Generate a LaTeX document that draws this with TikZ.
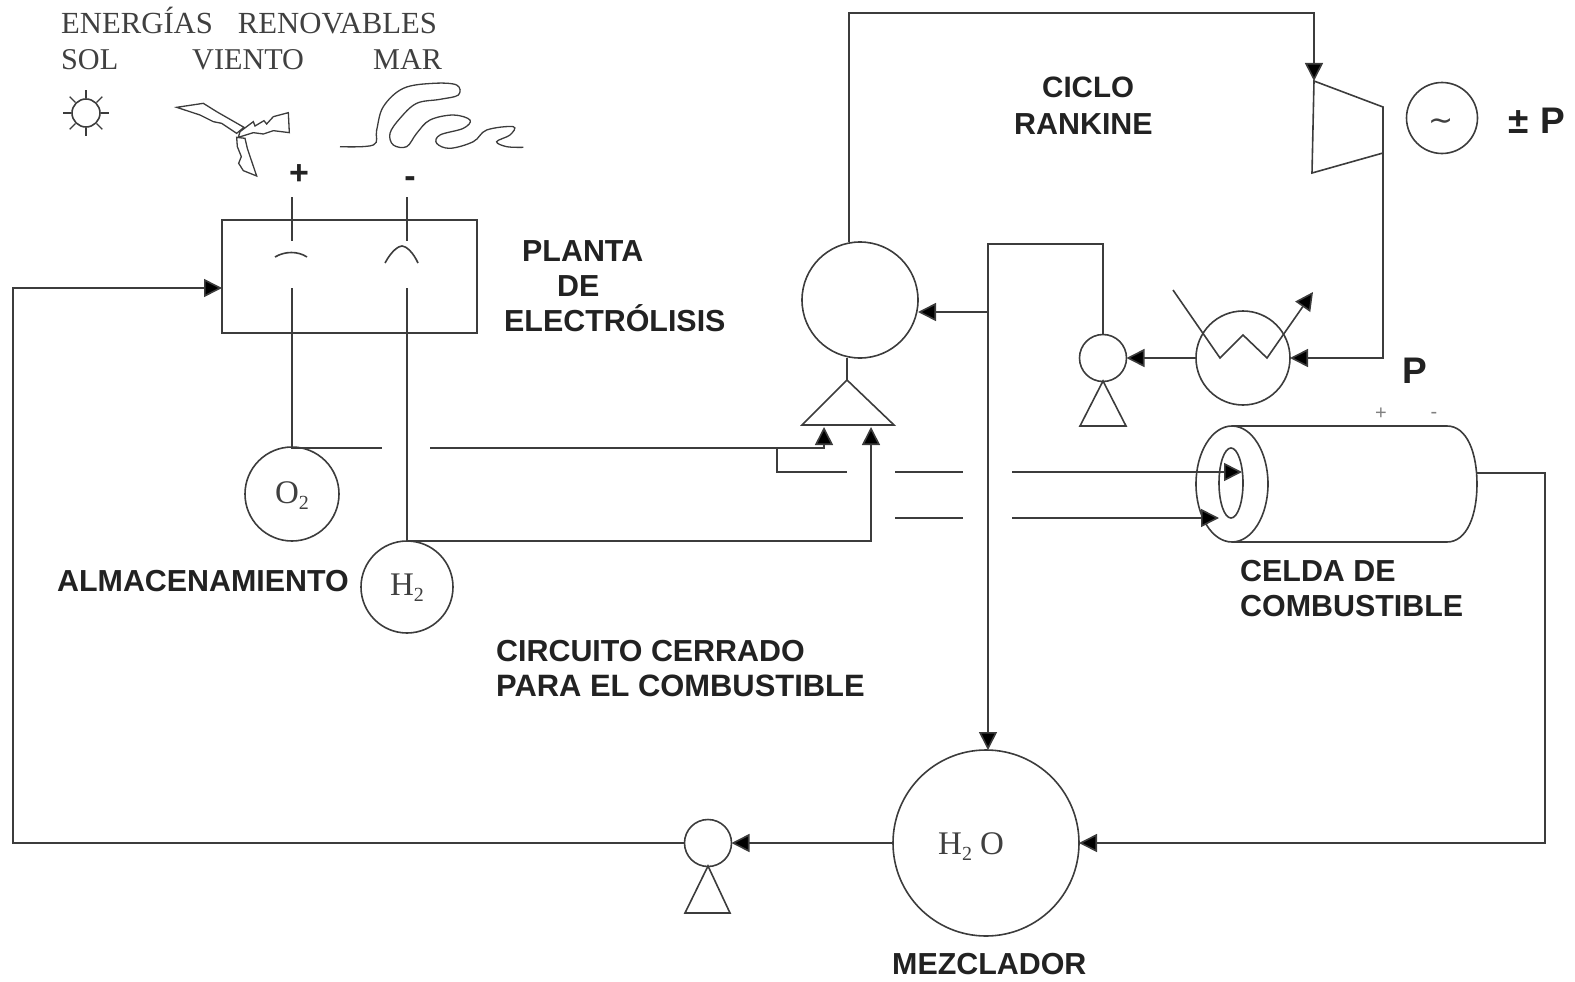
\documentclass[tikz,border=0pt]{standalone}
\usepackage{fontspec}
\setmainfont{Liberation Serif}
\setsansfont{Liberation Sans}
\newfontfamily\symbfont{DejaVu Sans}
\usetikzlibrary{arrows.meta}
\definecolor{ink}{HTML}{3C3C3C}
\definecolor{txt}{HTML}{222222}
\definecolor{stxt}{HTML}{404040}
\tikzset{
  ln/.style={draw=ink,line width=1.6pt,line join=miter},
  flow/.style={ln,-{Triangle[length=18pt,width=18pt,fill=black]}},
  ringnode/.style={circle,draw=ink,line width=1.6pt,inner sep=0pt,outer sep=0pt,fill=none},
  sanstxt/.style={anchor=base west,inner sep=0pt,text=txt,font=\sffamily\bfseries\fontsize{30.4}{36}\selectfont},
  bigtxt/.style={anchor=base west,inner sep=0pt,text=txt,font=\sffamily\bfseries\fontsize{37}{40}\selectfont},
  seriftxt/.style={anchor=base west,inner sep=0pt,text=stxt,font=\rmfamily\fontsize{30.2}{36}\selectfont},
  chem/.style={inner sep=0pt,text=stxt,font=\rmfamily\fontsize{33}{36}\selectfont},
  smalltxt/.style={inner sep=0pt,text=gray,font=\sffamily\fontsize{20}{22}\selectfont},
}
\newcommand{\lowsub}[1]{\raisebox{-6pt}{\fontsize{20}{20}\selectfont #1}}
\begin{document}
\begin{tikzpicture}[x=1pt,y=-1pt]
\useasboundingbox (0,0) rectangle (1575,982);
% --- labels
\node[seriftxt,font=\rmfamily\fontsize{30.7}{36}\selectfont] (t1) at (61,34) {ENERGÍAS\hspace{25pt}RENOVABLES};
\node[seriftxt] (t2) at (61,70) {SOL};
\node[seriftxt] (t3) at (192,70) {VIENTO};
\node[seriftxt] (t4) at (373,70) {MAR};
\node[sanstxt] (l1) at (522,261) {PLANTA};
\node[sanstxt] (l2) at (557,296) {DE};
\node[sanstxt] (l3) at (504,331) {ELECTRÓLISIS};
\node[sanstxt,font=\sffamily\bfseries\fontsize{29.5}{36}\selectfont] (l4) at (1042,98) {CICLO};
\node[sanstxt] (l5) at (1014,134) {RANKINE};
\node[sanstxt] (l6) at (57,591) {ALMACENAMIENTO};
\node[sanstxt] (l7) at (1240,581) {CELDA DE};
\node[sanstxt] (l8) at (1240,616) {COMBUSTIBLE};
\node[sanstxt] (l9) at (496,661) {CIRCUITO CERRADO};
\node[sanstxt,font=\sffamily\bfseries\fontsize{30.9}{36}\selectfont] (l10) at (496,696) {PARA EL COMBUSTIBLE};
\node[sanstxt] (l11) at (892,974) {MEZCLADOR};
\node[bigtxt] (l12) at (1508,133) {±\hspace{12pt}P};
\node[bigtxt] (l13) at (1402,383) {P};
\node[inner sep=0pt,text=txt,font=\sffamily\bfseries\fontsize{34}{36}\selectfont] (plus) at (299,175) {+};
\node[inner sep=0pt,text=txt,font=\sffamily\bfseries\fontsize{34}{36}\selectfont] (minus) at (410,182) {-};
\node[smalltxt] (p2) at (1381,414) {+};
\node[smalltxt] (m2) at (1434,415) {-};
% --- electrolysis plant
\node[draw=ink,line width=1.6pt,inner sep=0pt,outer sep=0pt,minimum width=255pt,minimum height=113pt] (plant) at (349.5,276.5) {};
\coordinate (a1) at (292,197); \coordinate (a2) at (292,241);
\coordinate (c1) at (407,197); \coordinate (c2) at (407,241);
\coordinate (a3) at (292,288); \coordinate (c3) at (407,288);
\draw[ln] (a1) -- (a2);
\draw[ln] (c1) -- (c2);
\draw[ln] (275,257) .. controls (285,251) and (298,251) .. (307,257);
\draw[ln] (385,263) .. controls (392,250) and (399,246) .. (402,246) .. controls (406,246) and (413,252) .. (418,263);
% --- storage
\node[ringnode,minimum size=94pt] (o2) at (292,494) {};
\node[chem] (o2t) at (292,496) {O\lowsub{2}};
\node[ringnode,minimum size=92pt] (h2) at (407,587) {};
\node[chem] (h2t) at (407,588) {H\lowsub{2}};
\draw[ln] (a3) -- (o2.north);
\draw[ln] (c3) -- (h2.north);
% --- steam generator
\node[ringnode,minimum size=116pt] (gen) at (860,300) {};
\coordinate (ga) at (847,380); \coordinate (gl) at (802,425); \coordinate (gr) at (894,425);
\draw[ln] (gen.south -| ga) -- (ga);
\draw[ln] (ga) -- (gl) -- (gr) -- cycle;
% --- O2 / H2 lines
\coordinate (o1) at (382,448); \coordinate (o3) at (430,448);
\coordinate (o4) at (824,448); \coordinate (o5) at (824,427);
\coordinate (b0) at (777,448); \coordinate (b1) at (777,472); \coordinate (b2) at (847,472);
\coordinate (b3) at (895,472); \coordinate (b4) at (963,472);
\coordinate (b5) at (1012,472); \coordinate (b6) at (1242,472);
\coordinate (h3) at (871,541); \coordinate (h4) at (871,427);
\coordinate (d1) at (895,518); \coordinate (d2) at (963,518);
\coordinate (d3) at (1012,518); \coordinate (d4) at (1219,518);
\draw[ln] (o2.north) -- (292,448) -- (o1);
\draw[flow] (o3) -- (o4) -- (o5);
\draw[ln] (b0) -- (b1) -- (b2);
\draw[ln] (b3) -- (b4);
\draw[ln] (d1) -- (d2);
\draw[flow] (h2.north) -- (h3) -- (h4);
% --- fuel cell
\coordinate (fa) at (1232,426); \coordinate (fb) at (1447,426);
\coordinate (fc) at (1447,542); \coordinate (fd) at (1232,542);
\coordinate (fo) at (1477,473);
\draw[ln] (fa) -- (fb) .. controls (1467,426) and (1477,453) .. (1477,484) .. controls (1477,515) and (1467,542) .. (fc) -- (fd);
\draw[ln] (1232,484) ellipse [x radius=36,y radius=58];
\draw[ln] (1231,483) ellipse [x radius=12,y radius=35];
\draw[flow] (b5) -- (b6);
\draw[flow] (d3) -- (d4);
% --- Rankine
\coordinate (r1) at (849,13); \coordinate (r2) at (1314,13);
\coordinate (t1a) at (1314,81); \coordinate (t2a) at (1383,107);
\coordinate (t3a) at (1383,153); \coordinate (t4a) at (1312,173);
\draw[flow] (gen.north -| r1) -- (r1) -- (r2) -- (t1a);
\draw[ln] (t1a) -- (t2a) -- (t3a) -- (t4a) -- cycle;
\node[ringnode,minimum size=71pt] (alt) at (1442,118) {};
\node[inner sep=0pt,text=stxt,font=\symbfont\fontsize{30}{32}\selectfont] (altt) at (1441,125) {\char"223C};
\node[ringnode,minimum size=94pt] (hx) at (1243,358) {};
\coordinate (q) at (1383,358);
\draw[flow] (t3a) -- (q) -- (hx.east);
\coordinate (z0) at (1173,290); \coordinate (z1) at (1220,358); \coordinate (z2) at (1243,335);
\coordinate (z3) at (1267,358); \coordinate (z4) at (1313,292);
\draw[flow] (z0) -- (z1) -- (z2) -- (z3) -- (z4);
\node[ringnode,minimum size=47pt] (pump1) at (1103,358) {};
\draw[flow] (hx.west) -- (pump1.east);
\coordinate (pa) at (1103,381); \coordinate (pl) at (1080,426); \coordinate (pr) at (1126,426);
\draw[ln] (pa) -- (pl) -- (pr) -- cycle;
% --- return / mixer
\node[ringnode,minimum size=186pt] (mix) at (986,843) {};
\node[chem] (mixt) at (971,847) {H\lowsub{2}\hspace{8pt}O};
\coordinate (v1) at (1103,244); \coordinate (v2) at (988,244); \coordinate (v3) at (988,312);
\draw[flow] (pump1.north) -- (v1) -- (v2) -- (mix.north -| v2);
\draw[flow] (v3) -- (gen.east |- v3);
\coordinate (m1) at (1545,473); \coordinate (m2a) at (1545,843);
\draw[flow] (fo) -- (m1) -- (m2a) -- (mix.east);
\node[ringnode,minimum size=47pt] (pump2) at (708,843) {};
\draw[flow] (mix.west) -- (pump2.east);
\coordinate (p2a) at (708,866); \coordinate (p2l) at (685,913); \coordinate (p2r) at (730,913);
\draw[ln] (p2a) -- (p2l) -- (p2r) -- cycle;
\coordinate (w1) at (13,843); \coordinate (w2) at (13,288);
\draw[flow] (pump2.west) -- (w1) -- (w2) -- (plant.west |- w2);
% --- sun
\node[ringnode,minimum size=28pt] (sun) at (86,113) {};
\foreach \a in {0,45,...,315}
  \draw[ink,line width=1.4pt] (sun) ++(\a:15pt) -- ++(\a:8pt);
% --- wind and sea, traced in zoom units
\begin{scope}[shift={(40,0)},x=0.33333pt,y=-0.33333pt]
\draw[ln,line width=1.3pt] (410,322) -- (490,310) -- (530,335) -- (612,382) -- (590,400) -- (545,370) -- (520,365) -- (480,345) -- cycle;
\draw[ln,line width=1.3pt] (600,395) -- (640,365) -- (645,378) -- (672,362) -- (680,372) -- (700,350) -- (745,338) -- (748,398) -- (700,392) -- (670,402) -- (640,398) -- (595,412) -- cycle;
\draw[ln,line width=1.3pt] (590,412) -- (615,415) -- (622,445) -- (632,475) -- (650,528) -- (610,512) -- (596,490) -- (604,470) -- (592,440) -- cycle;
\draw[ln,line width=1.3pt] plot[smooth,tension=0.6] coordinates {(900,440)(1000,435)(1010,390)(1030,320)(1090,265)(1180,250)(1250,255)(1255,285)(1200,298)(1130,310)(1080,355)(1050,400)(1060,435)(1100,440)(1130,400)(1170,360)(1240,345)(1290,360)(1270,385)(1200,405)(1190,430)(1230,445)(1300,425)(1340,390)(1420,380)(1410,405)(1370,425)(1400,440)(1450,442)};
\end{scope}
\end{tikzpicture}
\end{document}
